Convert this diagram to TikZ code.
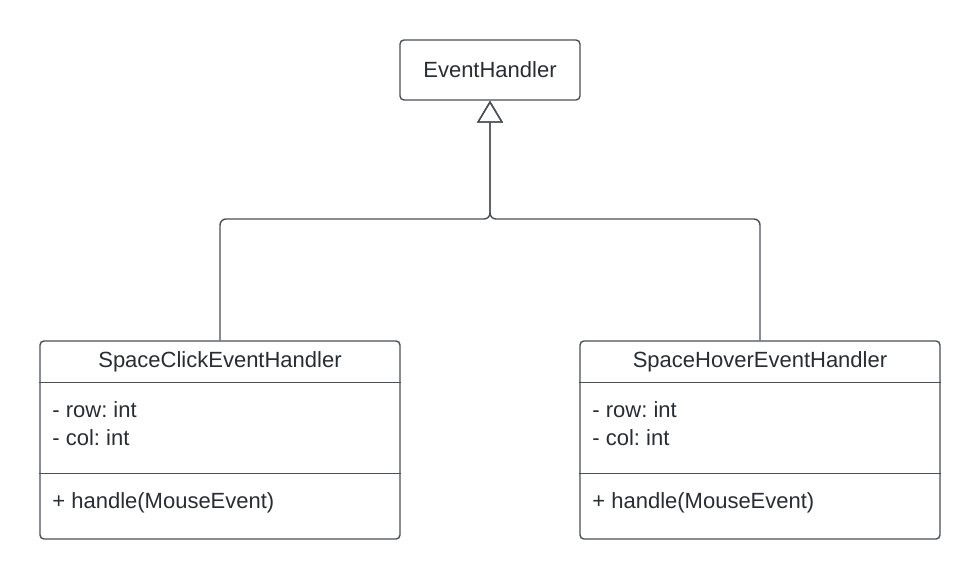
\documentclass[tikz,border=0pt]{standalone}
\usepackage{fontspec}
\setmainfont{Liberation Sans}
\usetikzlibrary{arrows.meta, positioning}
\definecolor{linegray}{HTML}{4A4F55}
\definecolor{textdark}{HTML}{282C33}
\frenchspacing

\begin{document}
\begin{tikzpicture}[
  x=0.5pt, y=-0.5pt,
  every node/.style={font=\fontsize{11}{14}\selectfont, text=textdark},
  namebox/.style={draw=linegray, line width=0.7pt, rounded corners=2pt, minimum width=90pt, minimum height=30pt, inner sep=0pt},
  classbox/.style={draw=linegray, line width=0.7pt, rounded corners=2pt, minimum width=180pt, minimum height=99pt, inner sep=0pt},
  member/.style={anchor=west, align=left, inner sep=0pt},
  sepline/.style={draw=linegray, line width=0.7pt},
  inherit/.style={draw=linegray, line width=0.7pt, rounded corners=3pt, -{Triangle[open, length=11pt, width=13pt]}}
]
\useasboundingbox (0,0) rectangle (980,579);

% base class
\node[namebox] (eh) at (490,70) {EventHandler};

% left subclass
\node[classbox] (sc) at (220,440) {};
\node (scname) at (220,362) {SpaceClickEventHandler};
\draw[sepline] ([yshift=-21pt]sc.north west) -- ([yshift=-21pt]sc.north east);
\node[member] (scattr) at (52,424) {- row: int\\- col: int};
\draw[sepline] ([yshift=-66.5pt]sc.north west) -- ([yshift=-66.5pt]sc.north east);
\node[member] (scop) at (52,503) {+ handle(MouseEvent)};

% right subclass
\node[classbox] (sh) at (760,440) {};
\node (shname) at (760,362) {SpaceHoverEventHandler};
\draw[sepline] ([yshift=-21pt]sh.north west) -- ([yshift=-21pt]sh.north east);
\node[member] (shattr) at (592,424) {- row: int\\- col: int};
\draw[sepline] ([yshift=-66.5pt]sh.north west) -- ([yshift=-66.5pt]sh.north east);
\node[member] (shop) at (592,503) {+ handle(MouseEvent)};

% generalization
\coordinate (hub) at (490,219);
\draw[inherit] (sc.north) |- (hub) -- (eh.south);
\draw[inherit] (sh.north) |- (hub) -- (eh.south);
\end{tikzpicture}
\end{document}
